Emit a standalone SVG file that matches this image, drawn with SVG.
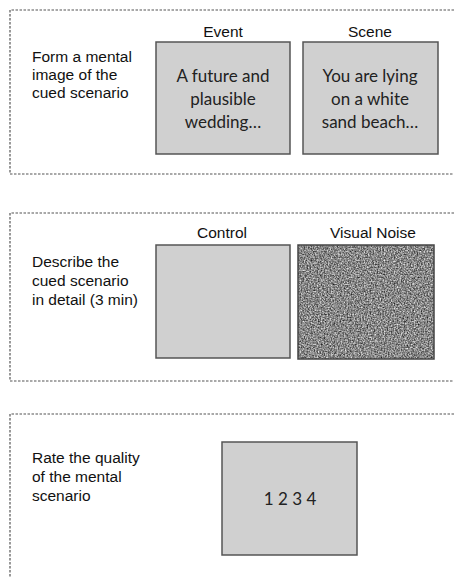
<svg xmlns="http://www.w3.org/2000/svg" width="454" height="578" viewBox="0 0 454 578">
<style>
.panel{fill:none;stroke:#555;stroke-width:1.2;stroke-dasharray:2.5 1.5}
.box{fill:#d0d0d0;stroke:#555;stroke-width:1.5}
.lbl{font-family:"Liberation Sans",Arial,sans-serif;font-size:15.5px;fill:#111}
.ttl{font-family:"Liberation Sans",Arial,sans-serif;font-size:15.5px;fill:#111;text-anchor:middle}
.inner{font-family:Lato,"Open Sans",sans-serif;font-size:17px;fill:#222;text-anchor:middle}
</style>
<defs>
<filter id="noise" filterUnits="userSpaceOnUse" x="298" y="245" width="136" height="114" color-interpolation-filters="sRGB">
<feTurbulence type="fractalNoise" baseFrequency="0.7" numOctaves="2" seed="3" result="t"/>
<feColorMatrix in="t" type="matrix" values="1.1 0 0 0 -0.02  1.1 0 0 0 -0.02  1.1 0 0 0 -0.02  0 0 0 0 1" result="g"/>
<feGaussianBlur in="g" stdDeviation="0.35"/>
</filter>
</defs>
<rect width="454" height="578" fill="#fff"/>
<g id="panel1">
<path class="panel" d="M454 10 H10 V174 H454"/>
<text class="lbl" x="32" y="62">Form a mental</text>
<text class="lbl" x="32" y="80">image of the</text>
<text class="lbl" x="32" y="98">cued scenario</text>
</g>
<g id="event">
<text class="ttl" x="223" y="37">Event</text>
<rect class="box" x="156" y="42" width="134" height="112"/>
<text class="inner" x="223" y="82">A future and</text>
<text class="inner" x="223" y="105">plausible</text>
<text class="inner" x="223" y="128">wedding…</text>
</g>
<g id="scene">
<text class="ttl" x="370" y="37">Scene</text>
<rect class="box" x="303" y="42" width="135" height="112"/>
<text class="inner" x="370" y="82">You are lying</text>
<text class="inner" x="370" y="105">on a white</text>
<text class="inner" x="370" y="128">sand beach…</text>
</g>
<g id="panel2">
<path class="panel" d="M454 213 H10 V381 H454"/>
<text class="lbl" x="32" y="267">Describe the</text>
<text class="lbl" x="32" y="286">cued scenario</text>
<text class="lbl" x="32" y="305">in detail (3 min)</text>
</g>
<g id="control">
<text class="ttl" x="222" y="238">Control</text>
<rect class="box" x="156" y="245" width="134" height="113"/>
</g>
<g id="visual-noise">
<text class="ttl" x="373" y="238">Visual Noise</text>
<rect x="298" y="245" width="136" height="114" fill="#888" filter="url(#noise)"/>
<rect x="298" y="245" width="136" height="114" fill="none" stroke="#444" stroke-width="1.5"/>
</g>
<g id="panel3">
<path class="panel" d="M454 414 H10 V578"/>
<text class="lbl" x="32" y="463">Rate the quality</text>
<text class="lbl" x="32" y="482">of the mental</text>
<text class="lbl" x="32" y="501">scenario</text>
</g>
<g id="rating">
<rect class="box" x="222" y="442" width="135" height="113"/>
<text class="inner" x="290" y="505">1 2 3 4</text>
</g>
<g id="connectors"/>
</svg>
